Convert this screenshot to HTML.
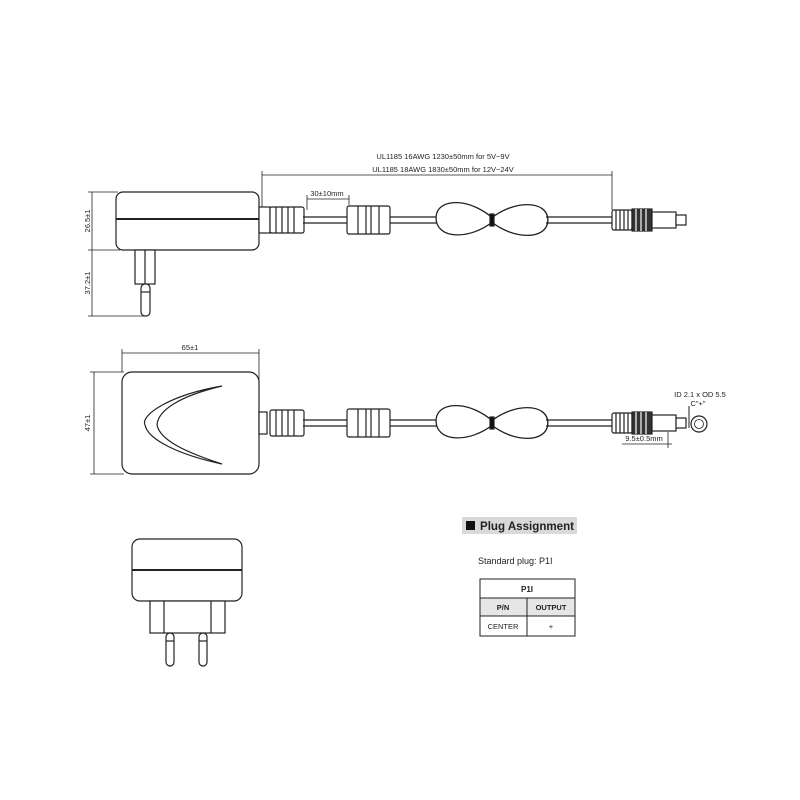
<!DOCTYPE html>
<html><head><style>
html,body{margin:0;padding:0;background:#fff;}
svg{display:block;}
text{font-family:"Liberation Sans",sans-serif;fill:#222;}
</style></head><body>
<svg width="800" height="800" viewBox="0 0 800 800" xmlns="http://www.w3.org/2000/svg">
<defs>
<g id="cable" stroke="#222" fill="#fff" stroke-width="1.2">
  <rect x="270" y="-13" width="34" height="26" rx="2"/>
  <line x1="276" y1="-13" x2="276" y2="13"/><line x1="282" y1="-13" x2="282" y2="13"/>
  <line x1="288" y1="-13" x2="288" y2="13"/><line x1="294" y1="-13" x2="294" y2="13"/>
  <line x1="303" y1="-3" x2="347" y2="-3"/><line x1="303" y1="3" x2="347" y2="3"/>
  <rect x="347" y="-14" width="43" height="28" rx="2"/>
  <line x1="358" y1="-14" x2="358" y2="14"/><line x1="379" y1="-14" x2="379" y2="14"/>
  <line x1="366" y1="-14" x2="366" y2="14"/><line x1="371" y1="-14" x2="371" y2="14"/>
  <line x1="390" y1="-3" x2="437" y2="-3"/><line x1="390" y1="3" x2="437" y2="3"/>
  <path d="M492 0 C470 -20 440 -20 438 -4 C436 18 470 18 492 0 C514 -18 546 -18 546 0 C546 18 514 18 492 0 Z" stroke-width="5"/>
  <path d="M492 0 C470 -20 440 -20 438 -4 C436 18 470 18 492 0 C514 -18 546 -18 546 0 C546 18 514 18 492 0 Z" stroke="#fff" stroke-width="2.4"/>
  <rect x="490" y="-6" width="4" height="12" fill="#111"/>
  <line x1="546" y1="-3" x2="612" y2="-3"/><line x1="546" y1="3" x2="612" y2="3"/>
  <rect x="612" y="-10" width="20" height="20" rx="2"/>
  <line x1="616" y1="-10" x2="616" y2="10"/><line x1="620" y1="-10" x2="620" y2="10"/><line x1="624" y1="-10" x2="624" y2="10"/><line x1="628" y1="-10" x2="628" y2="10"/>
  <rect x="632" y="-11" width="20" height="22" fill="#333"/>
  <line x1="636" y1="-11" x2="636" y2="11" stroke="#fff"/><line x1="641" y1="-11" x2="641" y2="11" stroke="#fff"/><line x1="646" y1="-11" x2="646" y2="11" stroke="#fff"/>
  <rect x="652" y="-8" width="24" height="16"/>
  <rect x="676" y="-5" width="10" height="10"/>
</g>
</defs>

<g stroke="#222" fill="#fff" stroke-width="1.2">
  <rect x="116" y="192" width="143" height="58" rx="7"/>
  <line x1="116" y1="219" x2="259" y2="219" stroke-width="2"/>
  <rect x="259" y="207" width="11" height="26"/>
  <rect x="135" y="250" width="20" height="34"/>
  <line x1="145" y1="250" x2="145" y2="284"/>
  <rect x="141" y="284" width="9" height="32" rx="4"/>
  <line x1="141" y1="292" x2="150" y2="292"/>
</g>
<use href="#cable" transform="translate(0,220)"/>
<g stroke="#222" stroke-width="0.8" fill="none">
  <line x1="92" y1="192" x2="92" y2="316"/>
  <line x1="88" y1="192" x2="118" y2="192"/><line x1="88" y1="250" x2="120" y2="250"/><line x1="88" y1="316" x2="146" y2="316"/>
  <line x1="262" y1="175" x2="612" y2="175"/>
  <line x1="262" y1="171" x2="262" y2="207"/><line x1="612" y1="171" x2="612" y2="210"/>
  <line x1="307" y1="199" x2="349" y2="199"/>
  <line x1="307" y1="195" x2="307" y2="210"/><line x1="349" y1="195" x2="349" y2="205"/>
</g>
<text x="443" y="159" font-size="7.5" text-anchor="middle">UL1185 16AWG 1230±50mm for 5V~9V</text>
<text x="443" y="172" font-size="7.5" text-anchor="middle">UL1185 18AWG 1830±50mm for 12V~24V</text>
<text x="327" y="196" font-size="7.5" text-anchor="middle">30±10mm</text>
<text transform="translate(90,221) rotate(-90)" font-size="7.5" text-anchor="middle">26.5±1</text>
<text transform="translate(90,283) rotate(-90)" font-size="7.5" text-anchor="middle">37.2±1</text>

<g stroke="#222" fill="#fff" stroke-width="1.2">
  <rect x="122" y="372" width="137" height="102" rx="10"/>
  <path d="M222 386 C170 395 140 415 145 425 C148 440 180 455 222 464 C185 452 160 440 157 425 C158 410 180 396 222 386 Z"/>
  <rect x="259" y="412" width="8" height="22"/>
</g>
<use href="#cable" transform="translate(0,423)"/>
<g stroke="#222" stroke-width="0.8" fill="none">
  <line x1="122" y1="353" x2="259" y2="353"/>
  <line x1="122" y1="349" x2="122" y2="372"/><line x1="259" y1="349" x2="259" y2="385"/>
  <line x1="94" y1="372" x2="94" y2="474"/>
  <line x1="90" y1="372" x2="124" y2="372"/><line x1="90" y1="474" x2="124" y2="474"/>
  <line x1="622" y1="444" x2="672" y2="444"/>
  <line x1="668" y1="432" x2="668" y2="448"/>
  <line x1="689" y1="406" x2="689" y2="428" stroke-width="1"/>
  <circle cx="699" cy="424" r="8" stroke-width="1.2"/>
  <circle cx="699" cy="424" r="4.5"/>
</g>
<text x="190" y="350" font-size="7.5" text-anchor="middle">65±1</text>
<text transform="translate(90,423) rotate(-90)" font-size="7.5" text-anchor="middle">47±1</text>
<text x="700" y="397" font-size="7.5" text-anchor="middle">ID 2.1 x OD 5.5</text>
<text x="698" y="406" font-size="7.5" text-anchor="middle">C"+"</text>
<text x="644" y="441" font-size="7.5" text-anchor="middle">9.5±0.5mm</text>

<g stroke="#222" fill="#fff" stroke-width="1.2">
  <rect x="132" y="539" width="110" height="62" rx="8"/>
  <line x1="132" y1="570" x2="242" y2="570" stroke-width="2"/>
  <rect x="150" y="601" width="75" height="32"/>
  <line x1="164" y1="601" x2="164" y2="633"/><line x1="211" y1="601" x2="211" y2="633"/>
  <rect x="166" y="633" width="8" height="33" rx="4"/>
  <line x1="166" y1="641" x2="174" y2="641"/>
  <rect x="199" y="633" width="8" height="33" rx="4"/>
  <line x1="199" y1="641" x2="207" y2="641"/>
</g>

<rect x="462" y="517" width="115" height="17" fill="#d9d9d9"/>
<rect x="466" y="521" width="9" height="9" fill="#111"/>
<text x="480" y="530" font-size="11.5" font-weight="bold" fill="#111" textLength="94" lengthAdjust="spacingAndGlyphs">Plug Assignment</text>
<text x="478" y="564" font-size="9">Standard plug: P1I</text>
<g stroke="#222" stroke-width="1" fill="#fff">
  <rect x="480" y="579" width="95" height="19"/>
  <rect x="480" y="598" width="95" height="18" fill="#e6e6e6"/>
  <rect x="480" y="616" width="95" height="20"/>
  <line x1="527" y1="598" x2="527" y2="636"/>
</g>
<text x="527" y="592" font-size="8" font-weight="bold" text-anchor="middle">P1I</text>
<text x="503" y="610" font-size="7.5" font-weight="bold" text-anchor="middle">P/N</text>
<text x="551" y="610" font-size="7.5" font-weight="bold" text-anchor="middle">OUTPUT</text>
<text x="503" y="629" font-size="7.5" text-anchor="middle">CENTER</text>
<text x="551" y="629" font-size="7.5" text-anchor="middle">+</text>
</svg>
</body></html>
